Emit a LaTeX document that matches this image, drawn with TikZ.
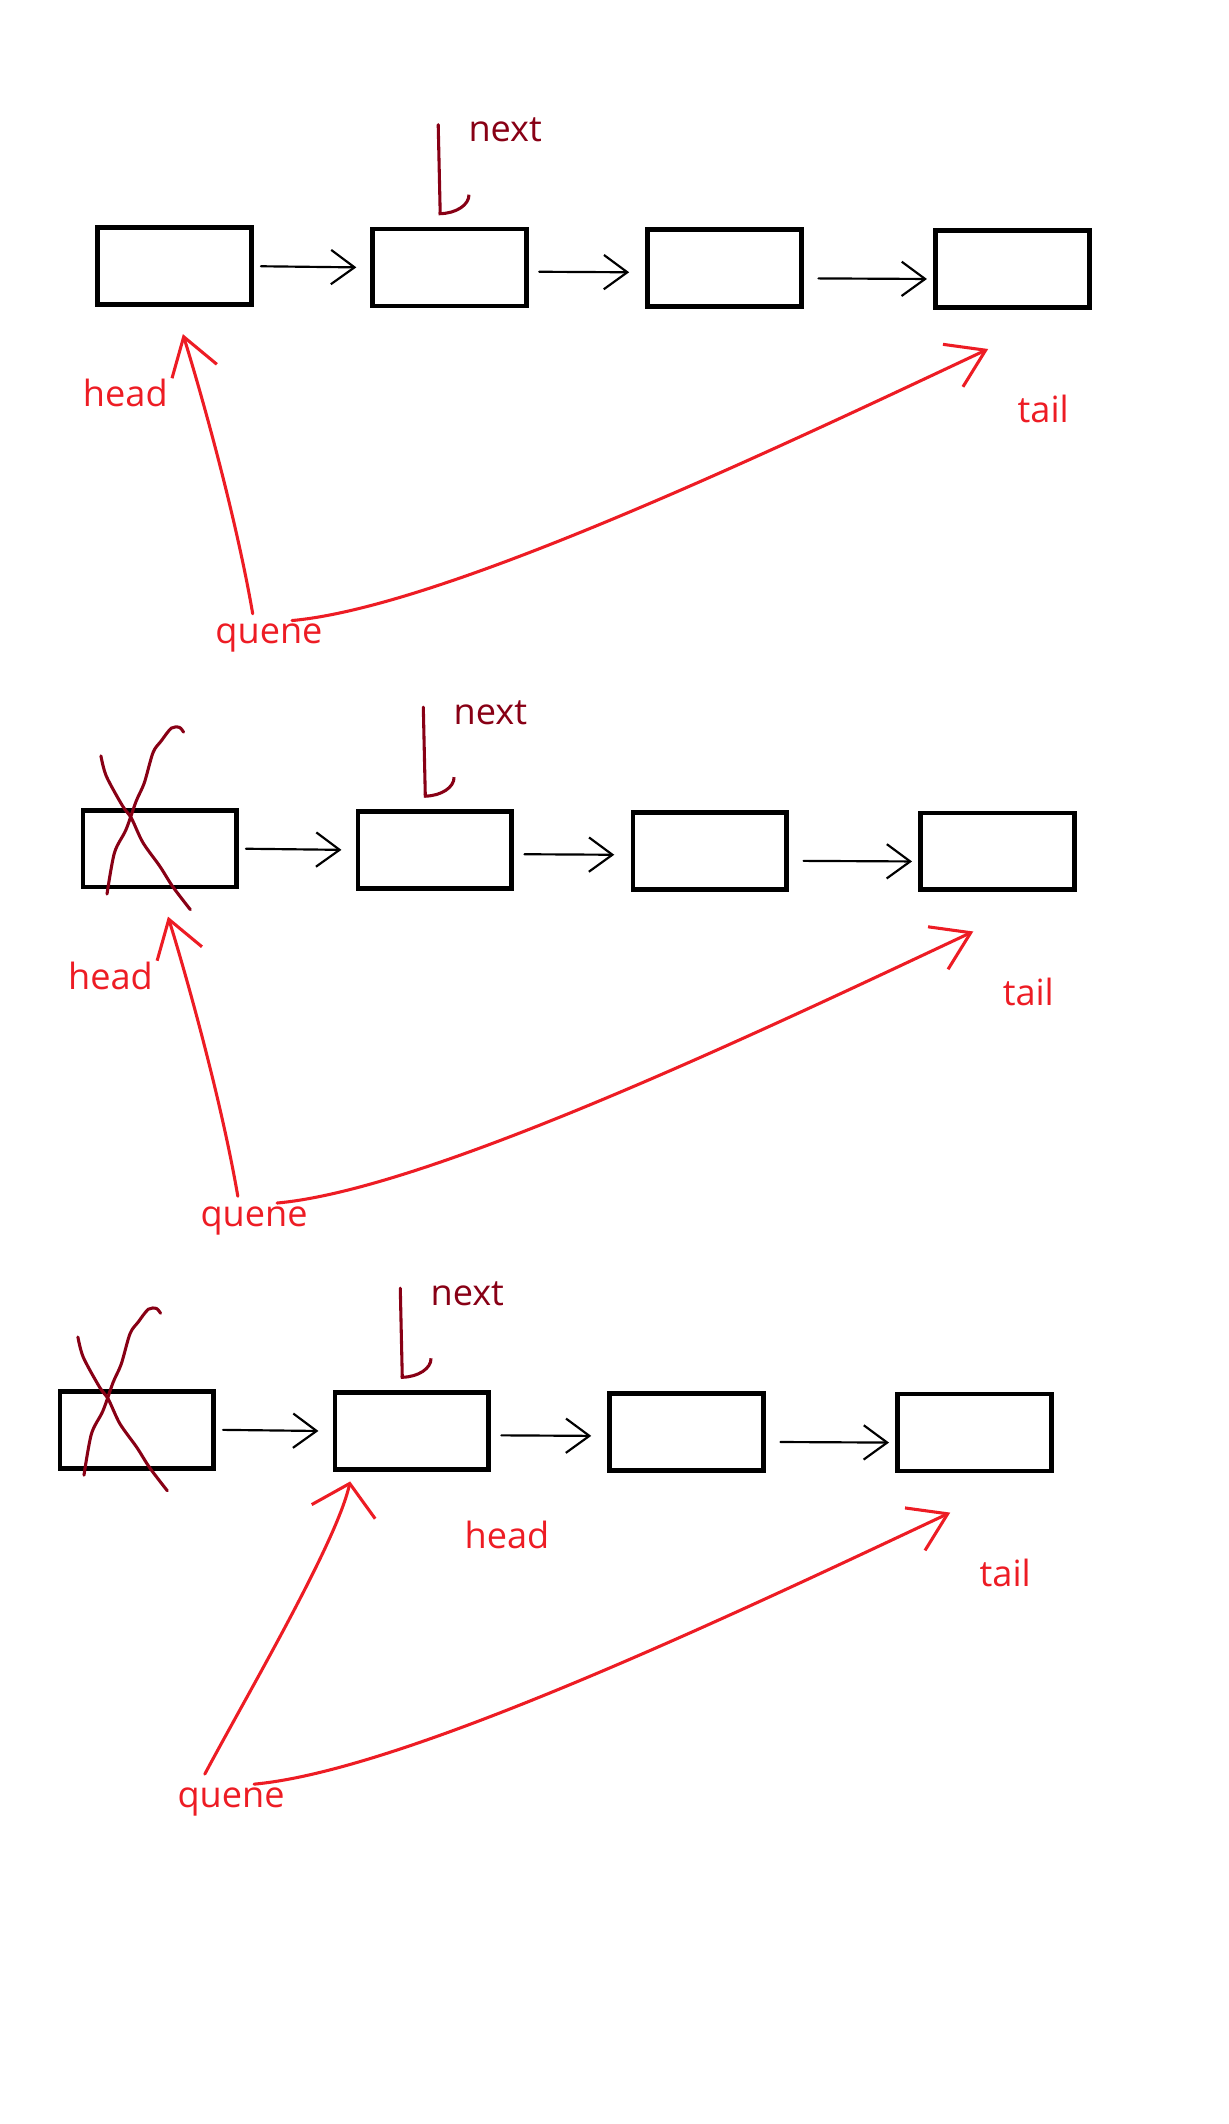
\documentclass[tikz,border=0pt]{standalone}
\usepackage{fontspec}
\setmainfont{Open Sans}
\usetikzlibrary{arrows.meta,calc}
\definecolor{penred}{RGB}{237,28,36}
\definecolor{pendark}{RGB}{136,0,21}
\tikzset{
	cell/.style={draw, line width=2.6pt, minimum width=85.2pt, minimum height=42.6pt, inner sep=0pt},
	link/.style={line width=1.2pt, line cap=round, -{Straight Barb[length=13pt,width=19pt]}},
	nextptr/.style={draw=pendark, line width=1.7pt, line cap=round, -{Arc Barb[left,length=11pt,width=34pt]}},
	redptr/.style={draw=penred, line width=1.7pt, line cap=round, -{Straight Barb[length=20pt,width=26pt]}},
	redwide/.style={draw=penred, line width=1.7pt, line cap=round, -{Straight Barb[length=16pt,width=36pt]}},
	cross/.style={draw=pendark, line width=1.7pt, line cap=round},
	word/.style={inner sep=0pt, anchor=base west, font=\fontsize{20pt}{24pt}\selectfont},
}

\begin{document}
\begin{tikzpicture}[x=0.75pt,y=-0.75pt]
		\useasboundingbox (0,0) rectangle (907,1568);
		
		% one row per step, each a bit further left
		\foreach \p/\sx/\sy/\hx/\hy in {1/0/0/61/300.4, 2/-11/430/61/300.4, 3/-28/859/370.7/283.8} {
			\begin{scope}[shift={(\sx,\sy)}]
				\foreach \i/\x/\y in {1/129/196.5, 2/332/197.5, 3/535/198, 4/747.5/198.5} {
					\node[cell] (b\p\i) at (\x,\y) {};
				}
				\coordinate (nt\p) at (323.5,92);
				\node[word, text=pendark] (next\p) at (345.6,104.6) {next};
				\node[word, text=penred] (head\p) at (\hx,\hy) {head};
				\node[word, text=penred] (tail\p) at (751,312) {tail};
				\node[word, text=penred] (quene\p) at (158.8,475.1) {quene};
			\end{scope}
			\foreach \i/\j/\dy/\ga/\gb in {1/2/0/3.8/7.8, 2/3/-2.3/5.7/9, 3/4/-5.6/8/3.5} {
				\draw[link, shorten <=\ga pt, shorten >=\gb pt] ([yshift=\dy pt]b\p\i.east) -- ([yshift=\dy pt]b\p\j.west);
			}
			\draw[nextptr] (nt\p) -- ($(b\p2.north)+(-7,-8.5)$);
			\draw[redptr] ($(quene\p.base)+(17,-17)$) .. controls +(110,-10) and +(-170,80) .. ($(b\p4.south)+(-18,29)$);
		}
		
		% head pointers
		\foreach \p in {1,2} {
			\draw[redptr] ($(quene\p.base)+(-12,-22)$) .. controls +(-12,-70) and +(14,45) .. ($(b\p1.south)+(6,20)$);
		}
		\draw[redwide] ($(quene3.base)+(-19.4,-24.4)$) .. controls +(32,-60) and +(-10,45) .. ($(b32.south)+(-45.5,7)$);
		
		% crossed out first cell
		\foreach \p in {2,3} {
			\begin{scope}[shift={(b\p1.center)}]
				\draw[cross] plot[smooth] coordinates {(-43.5,-68.5) (-39.5,-53.5) (-27.5,-31.5) (-21,-22.5) (-12.5,-4.5) (0,13) (9.5,28) (22.5,45)};
				\draw[cross] plot[smooth] coordinates {(-39,33.5) (-33.5,3) (-25,-14) (-17.5,-35) (-11.5,-48.5) (-5,-71) (1,-79.5) (8.5,-89) (14.5,-89.5) (17.5,-86)};
			\end{scope}
		}
	\end{tikzpicture}
\end{document}
